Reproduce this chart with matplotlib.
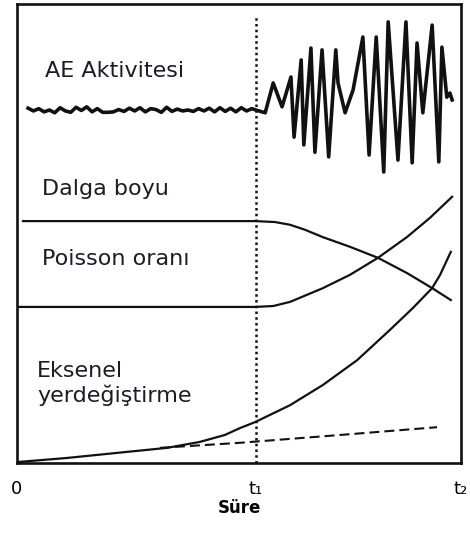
import matplotlib
matplotlib.use("Agg")
import matplotlib.pyplot as plt

# time axis in arbitrary units: 0 .. 100 (t2), t1 marked by the dotted line
t1 = 53.8
tick_pos = [0, t1, 100]
tick_labels = ["0", "t\u2081", "t\u2082"]

# AE activity trace: small noise before t1, growing bursts after
ae_t = [2.5, 3.7, 4.9, 6.1, 7.3, 8.5, 9.7, 10.9, 12.1, 13.3, 14.5, 15.7, 16.9,
        18.1, 19.3, 20.5, 21.7, 22.9, 24.1, 25.3, 26.5, 27.7, 28.9, 30.1, 31.3,
        32.5, 33.7, 34.9, 36.1, 37.3, 38.5, 39.7, 40.9, 42.1, 43.3, 44.5, 45.7,
        46.9, 48.1, 49.3, 50.5, 51.7, 52.9, 53.8,
        55.9, 57.7, 59.7, 61.7, 62.4, 64.0, 64.6, 66.2, 67.1, 68.7,
        70.2, 71.8, 72.3, 73.9, 75.7, 77.9, 79.3, 80.9, 82.6, 83.6, 85.8, 87.6,
        89.0, 90.1, 91.4, 93.5, 95.0, 95.7, 96.8, 97.5, 98.0]
ae_v = [77.3, 76.7, 77.2, 76.5, 76.9, 76.3, 77.4, 76.7, 76.4, 77.5, 76.8, 77.6,
        76.5, 77.2, 76.4, 76.4, 76.5, 77.0, 76.6, 77.3, 76.7, 77.4, 76.5, 77.2,
        77.0, 76.4, 77.5, 76.6, 77.1, 76.7, 76.9, 76.6, 77.2, 76.7, 77.3, 76.5,
        77.4, 76.6, 77.3, 76.5, 77.4, 76.7, 77.2, 76.9,
        76.3, 82.8, 77.6, 84.1, 71.0, 87.8, 69.3, 90.4, 67.7, 90.0,
        66.7, 90.0, 82.8, 76.3, 81.3, 92.8, 67.1, 92.8, 63.4, 96.1, 66.0, 96.1,
        65.4, 91.5, 76.3, 95.4, 65.6, 90.6, 79.7, 80.6, 79.1]

# wavelength (Dalga boyu): flat, then falls after t1
wave_t = [1.35, 53.6, 58.1, 61.5, 64.9, 68.9, 75.0, 81.3, 87.8, 93.5, 97.7]
wave_v = [52.7, 52.7, 52.5, 51.9, 50.8, 49.2, 47.1, 44.7, 41.4, 38.1, 35.5]

# Poisson ratio: flat, then rises after t1
pois_t = [0, 53.6, 57.7, 61.5, 68.9, 75.0, 81.3, 87.8, 93.0, 98.0]
pois_v = [34.0, 34.0, 34.2, 35.1, 38.1, 41.0, 44.7, 49.2, 53.4, 58.0]

# axial displacement (solid) and its linear trend (dashed)
axial_t = [0, 11.3, 22.5, 33.8, 41.2, 46.8, 50.2, 53.6, 61.5, 68.9, 76.6,
           84.0, 89.2, 93.5, 95.3, 97.7]
axial_v = [0.2, 1.1, 2.2, 3.3, 4.6, 6.1, 7.6, 8.9, 12.6, 17.0, 22.4,
           29.0, 33.8, 38.1, 41.0, 46.0]
trend_t = [32.2, 50.2, 72.7, 94.6]
trend_v = [3.3, 4.4, 6.1, 7.8]

labels = [("AE Aktivitesi", 6.3, 84.1),
          ("Dalga boyu", 5.6, 58.4),
          ("Poisson oran\u0131", 5.6, 43.1),
          ("Eksenel", 4.5, 18.7),
          ("yerde\u011fi\u015ftirme", 4.5, 13.3)]

plt.rcParams['font.family'] = ['DejaVu Sans']

fig = plt.figure(figsize=(4.7, 5.33), dpi=100)
ax = fig.add_axes([17 / 470, 70 / 533, 444 / 470, 459 / 533])

ink = "#111111"
ax.plot(ae_t, ae_v, color=ink, lw=2.6, solid_joinstyle="round")
ax.plot(wave_t, wave_v, color=ink, lw=1.6)
ax.plot(pois_t, pois_v, color=ink, lw=1.6)
ax.plot(axial_t, axial_v, color=ink, lw=1.6)
ax.plot(trend_t, trend_v, color=ink, lw=1.5, linestyle=(0, (4.8, 2.4)))
ax.plot([t1, t1], [0, 97.2], color=ink, lw=1.8, linestyle=(0, (1, 1.3)))

for txt, x, y in labels:
    ax.text(x, y, txt, fontsize=16, color="#1c1c28", ha="left", va="baseline")

ax.set_xlim(0, 100)
ax.set_ylim(0, 100)
ax.set_yticks([])
ax.set_xticks(tick_pos)
ax.set_xticklabels(tick_labels, fontsize=13)
ax.tick_params(axis="x", length=0, pad=12)
ax.set_xlabel("S\u00fcre", fontsize=12, fontweight="bold", labelpad=1)
for sp in ax.spines.values():
    sp.set_linewidth(1.9)
    sp.set_color(ink)

fig.savefig("out.png", dpi=100)
